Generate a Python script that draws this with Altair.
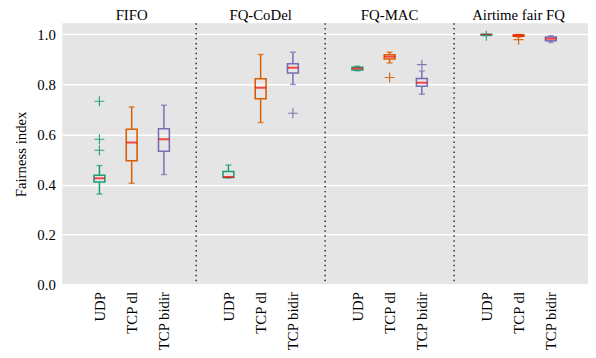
import altair as alt
import pandas as pd

groups = ["FIFO", "FQ-CoDel", "FQ-MAC", "Airtime fair FQ"]
flows = ["UDP", "TCP dl", "TCP bidir"]
colors = ["#1b9e77", "#d95f02", "#7570b3"]

# per group, per flow (UDP, TCP dl, TCP bidir)
whisk_lo = [[0.362, 0.405, 0.440], [0.427, 0.648, 0.800], [0.855, 0.886, 0.761], [0.997, 0.990, 0.968]]
q1 = [[0.410, 0.495, 0.533], [0.428, 0.743, 0.846], [0.858, 0.902, 0.793], [0.998, 0.993, 0.975]]
median = [[0.425, 0.568, 0.581], [0.430, 0.787, 0.867], [0.864, 0.911, 0.807], [0.999, 0.996, 0.983]]
q3 = [[0.437, 0.621, 0.623], [0.452, 0.823, 0.883], [0.869, 0.919, 0.824], [1.000, 0.998, 0.990]]
whisk_hi = [[0.476, 0.710, 0.717], [0.478, 0.920, 0.929], [0.873, 0.929, 0.854], [1.000, 1.000, 0.995]]
outliers = [
    [[0.733, 0.581, 0.537], [], []],
    [[], [], [0.685]],
    [[], [0.828], [0.879]],
    [[0.995], [0.979], []],
]

FONT = "Liberation Serif"
W, H = 533, 265

rows, outrows = [], []
for gi, g in enumerate(groups):
    for fi, f in enumerate(flows):
        pos = gi * 4 + fi + 1
        rows.append(dict(group=g, flow=f, pos=pos, lo=whisk_lo[gi][fi], q1=q1[gi][fi],
                         med=median[gi][fi], q3=q3[gi][fi], hi=whisk_hi[gi][fi]))
        for v in outliers[gi][fi]:
            outrows.append(dict(group=g, flow=f, pos=pos, v=v))
df = pd.DataFrame(rows)
dout = pd.DataFrame(outrows)
dsep = pd.DataFrame({"x": [gi * 4 for gi in range(1, len(groups))]})
dtit = pd.DataFrame({"group": groups, "x": [gi * 4 + 2 for gi in range(len(groups))]})

xscale = alt.Scale(domain=[0, 16], nice=False, zero=False)
yscale = alt.Scale(domain=[0, 1.045], nice=False)
cscale = alt.Scale(domain=flows, range=colors)

ticks = [gi * 4 + fi + 1 for gi in range(len(groups)) for fi in range(len(flows))]
xaxis = alt.Axis(values=ticks, labelExpr="['','UDP','TCP dl','TCP bidir'][datum.value % 4]",
                 labelAngle=270, labelAlign="right", labelBaseline="middle", grid=False,
                 ticks=False, domain=False, labelPadding=7, title=None)
yaxis = alt.Axis(values=[0, 0.2, 0.4, 0.6, 0.8, 1.0], format=".1f", grid=True, gridColor="white",
                 gridWidth=1.5, ticks=False, domain=False, labelPadding=7, title="Fairness index",
                 titlePadding=9)

base = alt.Chart(df)
x = alt.X("pos:Q", scale=xscale, axis=xaxis)
ysc = lambda f: alt.Y(f, scale=yscale, axis=yaxis)

seps = alt.Chart(dsep).mark_rule(color="black", strokeDash=[1.5, 3.5], strokeWidth=1.2).encode(
    x=alt.X("x:Q", scale=xscale, axis=xaxis), y=alt.value(0), y2=alt.value(H))

stroke = alt.Stroke("flow:N", scale=cscale, legend=None)
color = alt.Color("flow:N", scale=cscale, legend=None)
lower = base.mark_rule(strokeWidth=1.5).encode(x=x, y=ysc("lo:Q"), y2="q1:Q", stroke=stroke)
upper = base.mark_rule(strokeWidth=1.5).encode(x=x, y=ysc("q3:Q"), y2="hi:Q", stroke=stroke)
cap_lo = base.mark_tick(orient="horizontal", size=6, thickness=1.5).encode(x=x, y=ysc("lo:Q"), color=color)
cap_hi = base.mark_tick(orient="horizontal", size=6, thickness=1.5).encode(x=x, y=ysc("hi:Q"), color=color)
box = base.mark_bar(width=11, fill="transparent", strokeWidth=1.6).encode(
    x=x, y=ysc("q1:Q"), y2="q3:Q", stroke=stroke)
med = base.mark_tick(orient="horizontal", size=11, thickness=2, color="#ff0000").encode(x=x, y=ysc("med:Q"))
outs = alt.Chart(dout).mark_point(shape="M-1,0H1M0,-1V1", size=100, filled=False, strokeWidth=1.2,
                                  opacity=0.9).encode(
    x=alt.X("pos:Q", scale=xscale, axis=xaxis), y=ysc("v:Q"), stroke=stroke)
titles = alt.Chart(dtit).mark_text(fontSize=15, baseline="alphabetic", color="black").encode(
    x=alt.X("x:Q", scale=xscale, axis=xaxis), y=alt.value(-3), text="group:N")

chart = alt.layer(seps, lower, upper, cap_lo, cap_hi, box, med, outs, titles).properties(
    width=W, height=H, autosize=alt.AutoSizeParams(type="none"),
    padding={"left": 55, "top": 13, "right": 0, "bottom": 70},
    background="white",
).configure_view(fill="#e5e5e5", stroke=None).configure_axis(
    labelFont=FONT, labelFontSize=15, labelColor="black",
    titleFont=FONT, titleFontSize=15, titleFontWeight="normal", titleColor="black",
).configure_text(font=FONT)

chart.save("out.html", embed_options={"renderer": "svg", "actions": False})
